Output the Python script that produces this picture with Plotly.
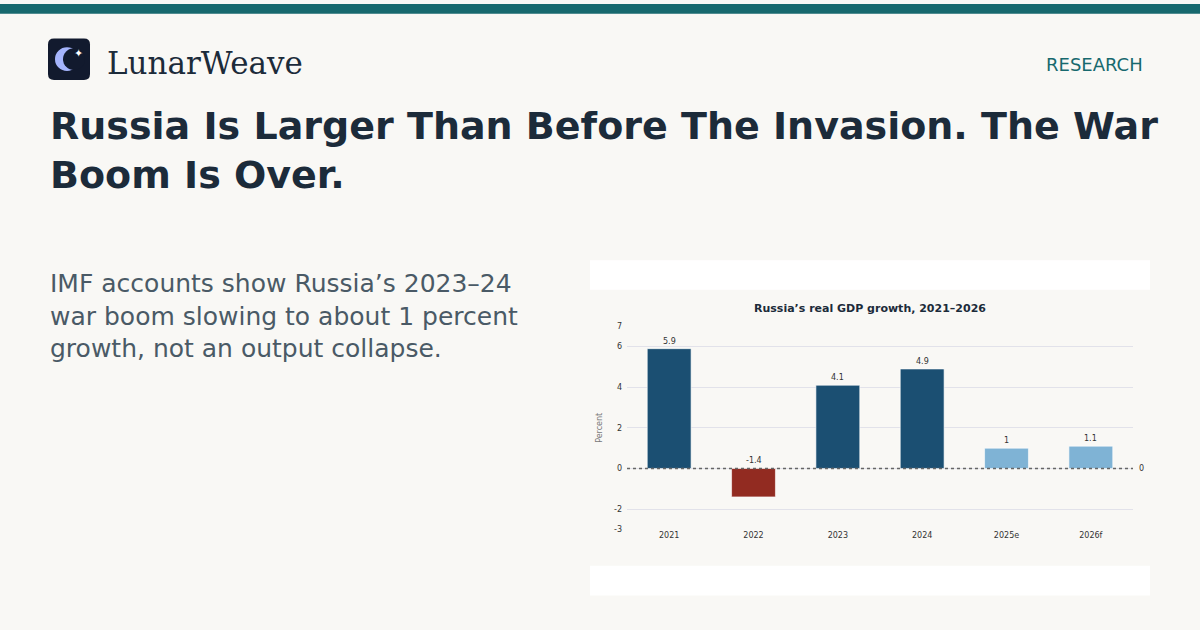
import plotly.graph_objects as go

years = ["2021", "2022", "2023", "2024", "2025e", "2026f"]
growth = [5.9, -1.4, 4.1, 4.9, 1.0, 1.1]
labels = ["5.9", "-1.4", "4.1", "4.9", "1", "1.1"]
colors = ["#1b4f72", "#922b21", "#1b4f72", "#1b4f72", "#7fb3d5", "#7fb3d5"]
ytick_vals = [-3, -2, 0, 2, 4, 6, 7]
ytick_text = ["-3", "-2", "0", "2", "4", "6", "7"]

BG = "#f9f8f5"
fig = go.Figure()
fig.add_trace(go.Bar(x=years, y=growth, marker=dict(color=colors, line=dict(color="rgba(255,255,255,0.6)", width=1)),
                     width=0.52, hoverinfo="skip"))

shapes = [
    dict(type="rect", xref="paper", yref="paper", x0=0, x1=1, y0=1-10/630, y1=1, fillcolor="#17696e", line_width=0, layer="below"),
    dict(type="rect", xref="paper", yref="paper", x0=590/1200, x1=1150/1200, y0=1-600/630, y1=1-260/630, fillcolor="white", line_width=0, layer="below"),
    dict(type="rect", xref="paper", yref="paper", x0=590/1200, x1=1150/1200, y0=1-570/630, y1=1-290/630, fillcolor=BG, line_width=0, layer="below"),
    dict(type="path", xref="paper", yref="paper",
         path="M {a},{b} L {c},{b} Q {d},{b} {d},{e} L {d},{f} Q {d},{g} {c},{g} L {a},{g} Q {h},{g} {h},{f} L {h},{e} Q {h},{b} {a},{b} Z".format(
             a=54/1200, c=84/1200, d=90/1200, h=48/1200, b=1-35/630, e=1-41/630, f=1-71/630, g=1-77/630),
         fillcolor="#121a2e", line_width=0),
    dict(type="circle", xref="paper", yref="paper", x0=55/1200, x1=79/1200, y0=1-68/630, y1=1-44/630, fillcolor="#a5b4fc", line_width=0),
    dict(type="circle", xref="paper", yref="paper", x0=63/1200, x1=85/1200, y0=1-67/630, y1=1-45/630, fillcolor="#121a2e", line_width=0),
    dict(type="line", xref="x domain", yref="y", x0=0, x1=1, y0=0, y1=0, line=dict(color="#666", width=1.5, dash="dot")),
]

ann = [
    dict(x=79/1200, y=1-50/630, text="✦", font=dict(size=11, color="white", family="DejaVu Sans")),
    dict(x=105/1200, y=1-60/630, xanchor="left", text="LunarWeave", font=dict(size=31, color="#1c2b3a", family="DejaVu Serif")),
    dict(x=1145/1200, y=1-61/630, xanchor="right", text="RESEARCH", font=dict(size=18, color="#17696e", family="DejaVu Sans")),
    dict(x=48/1200, y=1-99/630, xanchor="left", yanchor="top", align="left",
         text="<b>Russia Is Larger Than Before The Invasion. The War<br>Boom Is Over.</b>",
         font=dict(size=38, color="#1c2b3a", family="DejaVu Sans")),
    dict(x=48/1200, y=1-267/630, xanchor="left", yanchor="top", align="left",
         text="IMF accounts show Russia’s 2023–24<br>war boom slowing to about 1 percent<br>growth, not an output collapse.",
         font=dict(size=25, color="#4a5a66", family="DejaVu Sans")),
    dict(x=870/1200, y=1-309/630, text="<b>Russia’s real GDP growth, 2021–2026</b>", font=dict(size=11, color="#1c2b3a", family="DejaVu Sans")),
    dict(x=1137/1200, y=0, yref="y", xanchor="left", text="0", font=dict(size=8, color="#333")),
    dict(x=600/1200, y=1-430/630, text="Percent", textangle=-90, font=dict(size=8, color="#777")),
]
for i, (v, t) in enumerate(zip(growth, labels)):
    ann.append(dict(x=i, xref="x", y=max(v, 0), yref="y", yanchor="bottom", yshift=1, text=t,
                    font=dict(size=8, color="#333")))
for a in ann:
    a.setdefault("xref", "paper"); a.setdefault("yref", "paper"); a["showarrow"] = False
    a.setdefault("xanchor", "center"); a.setdefault("yanchor", "middle")

fig.update_layout(
    width=1200, height=630, margin=dict(l=0, r=0, t=0, b=0),
    paper_bgcolor=BG, plot_bgcolor="rgba(0,0,0,0)", showlegend=False,
    font=dict(family="DejaVu Sans", color="#333"),
    xaxis=dict(type="category", domain=[627/1200, 1133/1200], showgrid=False, ticks="", tickfont=dict(size=8), showline=False),
    yaxis=dict(domain=[1-533/630, 1-327/630], range=[-3, 7], tickvals=ytick_vals, ticktext=ytick_text, gridcolor="#e2e2ea",
               tickfont=dict(size=8), zeroline=False, ticks="", ticklabelstandoff=4),
    shapes=shapes, annotations=ann,
)
fig.write_html("out.html", config=dict(displayModeBar=False),
               post_script="document.body.style.margin='0';document.body.style.overflow='hidden';")
